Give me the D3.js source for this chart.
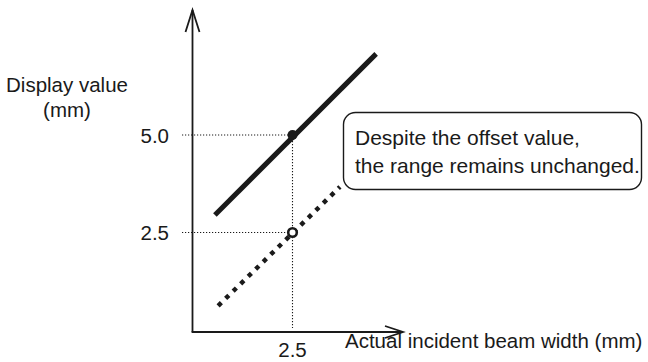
<!DOCTYPE html>
<html><head><meta charset="utf-8">
<script src="https://cdn.jsdelivr.net/npm/d3@7"></script>
<style>
html,body{margin:0;padding:0;background:#fff;}
svg{display:block;font-family:"Liberation Sans",Arial,Helvetica,sans-serif;}
</style></head>
<body>
<script>
// Data
const yTicks = [2.5, 5.0];
const yTickLabels = ["2.5", "5.0"];
const xTicks = [2.5];
const xTickLabels = ["2.5"];
const solidLine = [[0.57, 2.95], [4.58, 7.08]];   // with offset
const dottedLine = [[0.65, 0.62], [3.68, 3.67]];  // without offset
const markerFilled = [[2.5, 5.0]];
const markerOpen = [[2.5, 2.5]];
const yTitle = ["Display value", "(mm)"];
const xTitle = "Actual incident beam width (mm)";
const callout = ["Despite the offset value,", "the range remains unchanged."];

const W = 648, H = 362;
const FS = 20.5;
const svg = d3.select("body").append("svg").attr("width", W).attr("height", H);
const x = d3.scaleLinear().domain([0, 2.5]).range([192, 292.5]);
const y = d3.scaleLinear().domain([0, 5]).range([330, 135]);
const ink = "#1a1a1a";
const xAxisY = 332, yAxisX = 192.5;

// Guide dotted lines
yTicks.forEach(v => {
  svg.append("line").attr("x1", 182).attr("x2", x(2.5)).attr("y1", y(v)).attr("y2", y(v))
    .attr("stroke", ink).attr("stroke-width", 1.1).attr("stroke-dasharray", "1.2,1.8");
});
xTicks.forEach(v => {
  svg.append("line").attr("x1", x(v)).attr("x2", x(v)).attr("y1", y(5)).attr("y2", 328)
    .attr("stroke", ink).attr("stroke-width", 1.1).attr("stroke-dasharray", "1.2,1.8");
});

// Axes with open arrowheads
svg.append("line").attr("x1", yAxisX).attr("x2", yAxisX).attr("y1", xAxisY).attr("y2", 10)
  .attr("stroke", ink).attr("stroke-width", 1.8);
svg.append("path").attr("d", `M${yAxisX-7},32 L${yAxisX},10 L${yAxisX+7},32`)
  .attr("fill", "none").attr("stroke", ink).attr("stroke-width", 1.8);
svg.append("line").attr("x1", yAxisX - 0.9).attr("x2", 403).attr("y1", xAxisY).attr("y2", xAxisY)
  .attr("stroke", ink).attr("stroke-width", 1.8);
svg.append("path").attr("d", `M385,326 L403,${xAxisY} L385,338`)
  .attr("fill", "none").attr("stroke", ink).attr("stroke-width", 1.8);

// Callout box
svg.append("rect").attr("x", 343.5).attr("y", 112.5).attr("width", 298).attr("height", 77)
  .attr("rx", 12).attr("ry", 12).attr("fill", "#fff").attr("stroke", ink).attr("stroke-width", 1.4);
svg.append("g").selectAll("text").data(callout).join("text")
  .attr("x", 355).attr("y", (d, i) => 145 + i * 27.5)
  .attr("font-size", 21).attr("fill", ink).text(d => d);

const line = d3.line().x(d => x(d[0])).y(d => y(d[1]));
svg.append("path").attr("d", line(solidLine)).attr("fill", "none")
  .attr("stroke", ink).attr("stroke-width", 5);
svg.append("path").attr("d", line(dottedLine)).attr("fill", "none")
  .attr("stroke", ink).attr("stroke-width", 4.5).attr("stroke-dasharray", "4.5,6");

svg.selectAll("circle.f").data(markerFilled).join("circle").attr("class", "f")
  .attr("cx", d => x(d[0])).attr("cy", d => y(d[1])).attr("r", 5).attr("fill", ink);
svg.selectAll("circle.o").data(markerOpen).join("circle").attr("class", "o")
  .attr("cx", d => x(d[0])).attr("cy", d => y(d[1])).attr("r", 4.3)
  .attr("fill", "#fff").attr("stroke", ink).attr("stroke-width", 2.6);

// Tick labels
svg.selectAll("text.yt").data(yTicks).join("text").attr("class", "yt")
  .attr("x", 169).attr("y", d => y(d) + 7.5).attr("text-anchor", "end")
  .attr("font-size", FS).attr("fill", ink).text((d, i) => yTickLabels[i]);
svg.selectAll("text.xt").data(xTicks).join("text").attr("class", "xt")
  .attr("x", d => x(d)).attr("y", 357).attr("text-anchor", "middle")
  .attr("font-size", FS).attr("fill", ink).text((d, i) => xTickLabels[i]);

// Titles
svg.selectAll("text.yti").data(yTitle).join("text").attr("class", "yti")
  .attr("x", 67).attr("y", (d, i) => 92 + i * 25).attr("text-anchor", "middle")
  .attr("font-size", FS).attr("fill", ink).text(d => d);
svg.append("text").attr("x", 345).attr("y", 348).attr("font-size", FS)
  .attr("fill", ink).text(xTitle);
</script>
</body></html>
